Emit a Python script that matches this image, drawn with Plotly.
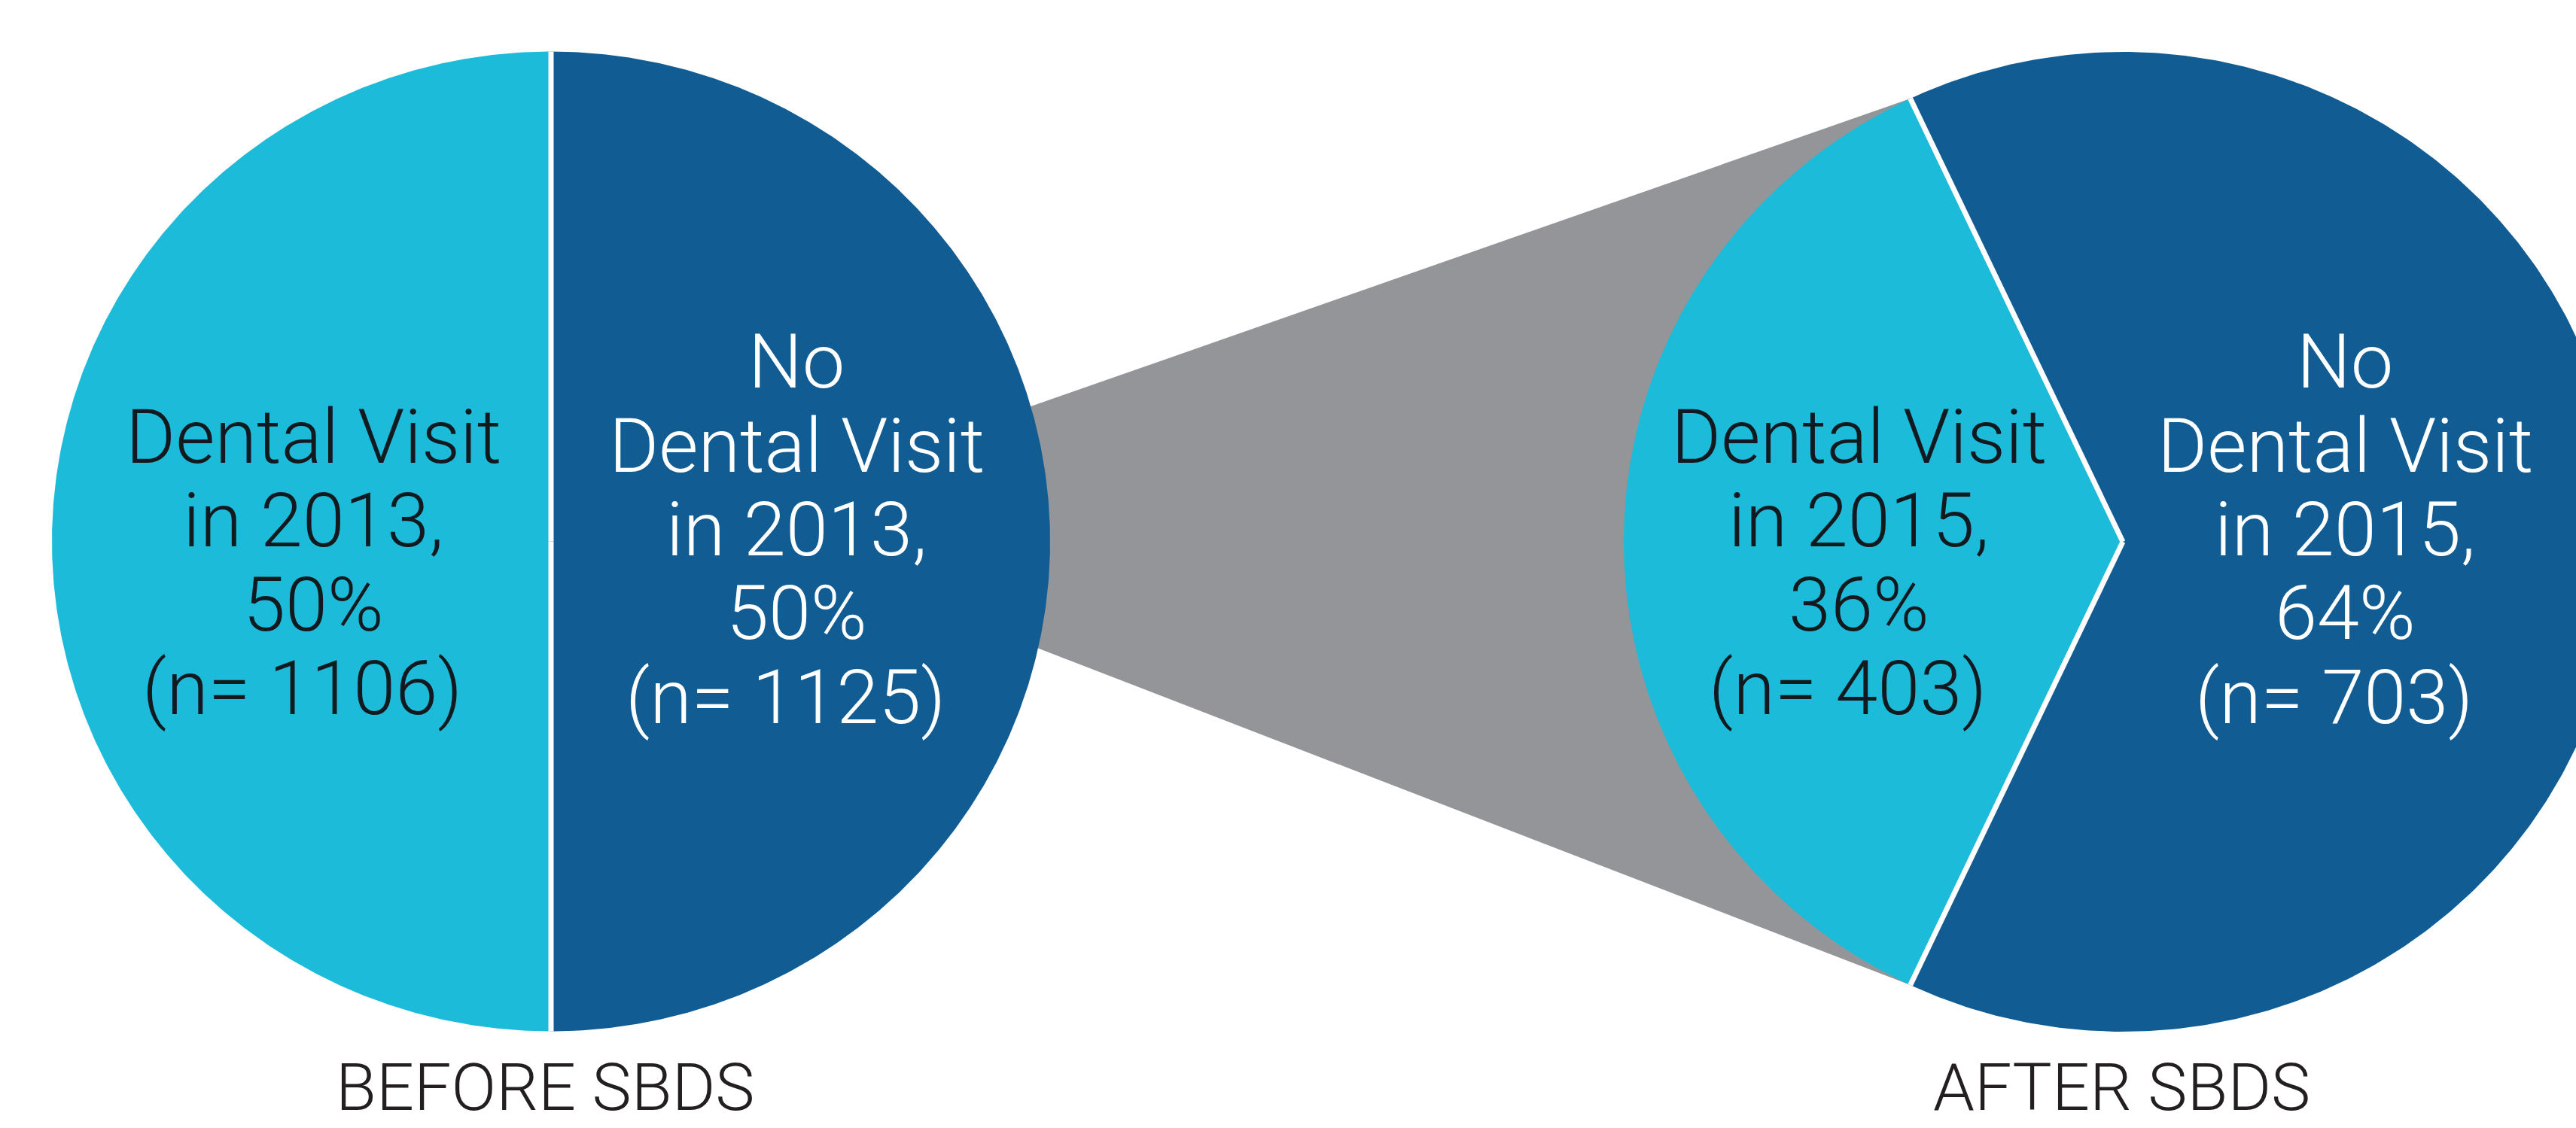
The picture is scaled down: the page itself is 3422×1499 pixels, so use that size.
import numpy as np
import plotly.graph_objects as go

# ---- data -------------------------------------------------------------
categories = ["Dental Visit", "No Dental Visit"]
years = ["2013", "2015"]
shares_2013 = [50, 50]          # percent of children
shares_2015 = [36, 64]
counts_2013 = [1106, 1125]      # n per group
counts_2015 = [403, 703]
panel_titles = ["BEFORE SBDS", "AFTER SBDS"]

# ---- layout / style ---------------------------------------------------
W, H = 3422, 1499
LIGHT = "#1CBBD9"
DARK = "#105C93"
GREY = "#939598"
INK = "#121A1F"
FONT = "Roboto"

RX, RY = 663, 651                       # pie radii in canvas units
CENTERS = [(732.0, 719.5), (2820.0, 720.0)]
SLICE_COLORS = [LIGHT, DARK]
TEXT_COLORS = [INK, "white"]
LABEL_X = [[416, 1058], [2469, 3115]]   # label column centre per pie / slice
FIRST_BASELINE = [615.0, 515.5]         # first line baseline per slice
LINE_STEP = 111.3
LABEL_SIZE = 101
TITLE_SIZE = 88
TITLE_X = [724, 2818]
TITLE_BASELINE = [1475, 1475]
CONNECT_ANGLES = (16.0, -12.6)          # where the zoom band leaves the first pie


def ellipse_point(c, deg):
    a = np.deg2rad(deg)
    return c[0] + RX * np.cos(a), c[1] - RY * np.sin(a)


def wedge(c, a0, a1, n=400):
    ang = np.linspace(a0, a1, n)
    xs = np.concatenate([[c[0]], c[0] + RX * np.cos(np.deg2rad(ang)), [c[0]]])
    ys = np.concatenate([[c[1]], c[1] - RY * np.sin(np.deg2rad(ang)), [c[1]]])
    return xs, ys


def slice_angles(shares):
    # first slice is centred on the left (180 deg), the rest follow round
    span0 = shares[0] * 3.6
    a0 = 180 - span0 / 2
    a1 = 180 + span0 / 2
    return [(a0, a1), (a1, a0 + 360)]


fig = go.Figure()

all_shares = [shares_2013, shares_2015]
all_counts = [counts_2013, counts_2015]
angles = [slice_angles(s) for s in all_shares]

# zoom band linking the first pie to the first slice of the second pie
(upper_a, lower_a) = CONNECT_ANGLES
p_up = ellipse_point(CENTERS[0], upper_a)
p_lo = ellipse_point(CENTERS[0], lower_a)
q_up = ellipse_point(CENTERS[1], angles[1][0][0])
q_lo = ellipse_point(CENTERS[1], angles[1][0][1])
band_x = [CENTERS[0][0], p_up[0], q_up[0], CENTERS[1][0], q_lo[0], p_lo[0], CENTERS[0][0]]
band_y = [CENTERS[0][1], p_up[1], q_up[1], CENTERS[1][1], q_lo[1], p_lo[1], CENTERS[0][1]]
fig.add_trace(go.Scatter(x=band_x, y=band_y, mode="lines", fill="toself",
                         fillcolor=GREY, line=dict(width=0), hoverinfo="skip"))

# pie slices
for p, c in enumerate(CENTERS):
    for s, (a0, a1) in enumerate(angles[p]):
        xs, ys = wedge(c, a0, a1)
        fig.add_trace(go.Scatter(x=xs, y=ys, mode="lines", fill="toself",
                                 fillcolor=SLICE_COLORS[s], line=dict(width=0),
                                 name=f"{categories[s]} {years[p]}",
                                 hoverinfo="name"))

# white separators between slices
for p, c in enumerate(CENTERS):
    for (a0, a1) in angles[p]:
        e = ellipse_point(c, a0)
        fig.add_trace(go.Scatter(x=[c[0], e[0]], y=[c[1], e[1]], mode="lines",
                                 line=dict(color="white", width=7), hoverinfo="skip"))

# slice labels
for p in range(2):
    for s, cat in enumerate(categories):
        words = cat.split(" ")
        if words[0] == "No":
            lines = ["No", " ".join(words[1:])]
        else:
            lines = [cat]
        lines += [f"in {years[p]},", f"{all_shares[p][s]}%", f"(n= {all_counts[p][s]})"]
        for i, txt in enumerate(lines):
            baseline = FIRST_BASELINE[s] + i * LINE_STEP
            fig.add_annotation(
                x=LABEL_X[p][s], y=baseline - 0.342 * LABEL_SIZE,
                xref="x", yref="y", text=txt, showarrow=False,
                xanchor="center", yanchor="middle",
                xshift=-15 if txt.startswith("(n=") else 0,
                font=dict(family=FONT, size=LABEL_SIZE, color=TEXT_COLORS[s], weight=300),
            )

# panel titles
for p, title in enumerate(panel_titles):
    fig.add_annotation(
        x=TITLE_X[p], y=TITLE_BASELINE[p] - 0.342 * TITLE_SIZE,
        xref="x", yref="y", text=title, showarrow=False,
        xanchor="center", yanchor="middle",
        font=dict(family=FONT, size=TITLE_SIZE, color="#231F20", weight=300),
    )

fig.update_layout(
    width=W, height=H,
    margin=dict(l=0, r=0, t=0, b=0),
    paper_bgcolor="white", plot_bgcolor="white",
    showlegend=False,
    xaxis=dict(range=[0, W], visible=False, showgrid=False, zeroline=False, fixedrange=True),
    yaxis=dict(range=[H, 0], visible=False, showgrid=False, zeroline=False, fixedrange=True),
)

fig.write_html("out.html", config={"displayModeBar": False})
